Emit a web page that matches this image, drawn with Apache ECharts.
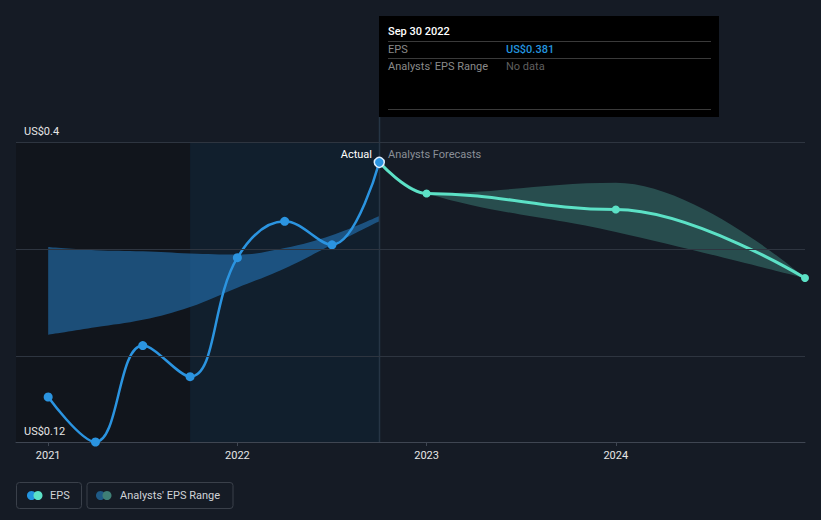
<!DOCTYPE html>
<html>
<head>
<meta charset="utf-8">
<script src="https://cdn.jsdelivr.net/npm/echarts@6/dist/echarts.min.js"></script>
<style>
  html, body { margin: 0; padding: 0; background: #151b25; }
  #chart { width: 821px; height: 520px; }
</style>
</head>
<body>
<div id="chart"></div>
<script>
// ---- data ----
// dates as decimal years (quarter ends)
const actualDates   = [2021.0, 2021.25, 2021.5, 2021.75, 2022.0, 2022.25, 2022.5, 2022.75];
const epsActual     = [0.162, 0.120, 0.210, 0.181, 0.292, 0.326, 0.304, 0.381];
const pastRangeLow  = [0.220, 0.227, 0.234, 0.246, 0.264, 0.282, 0.304, 0.326];
const pastRangeHigh = [0.302, 0.299, 0.298, 0.296, 0.295, 0.301, 0.313, 0.331];

const forecastDates = [2022.75, 2023.0, 2024.0, 2025.0];
const epsForecast   = [0.381, 0.352, 0.337, 0.273];
const forecastLow   = [0.381, 0.352, 0.316, 0.273];
const forecastHigh  = [0.381, 0.352, 0.362, 0.273];

const yearTicks = [2021, 2022, 2023, 2024];
const yTickLabels = [0.12, 0.4];
const gridValues = [0.2, 0.3, 0.4];

const xMin = 2020.83, xMax = 2025.0;
const highlightStart = 2021.75;
const FONT = 'Roboto, "Noto Sans", sans-serif';

const pairs = (xs, ys) => xs.map((x, i) => [x, ys[i]]);
// band rows are [value, date] so the stacked dimension is the value one
const bandLow = (xs, lo) => xs.map((x, i) => [lo[i], x]);
const bandDiff = (xs, lo, hi) => xs.map((x, i) => [+(hi[i] - lo[i]).toFixed(4), x]);
const fmtUsd = v => 'US$' + parseFloat((+v).toFixed(4));

const chart = echarts.init(document.getElementById('chart'), null, { renderer: 'svg' });

const bandBase = {
  type: 'line', smooth: 0.4, symbol: 'none', silent: true, z: 1,
  encode: { x: 1, y: 0 }, lineStyle: { opacity: 0 }
};

const option = {
  backgroundColor: '#151b25',
  animation: false,
  grid: { left: 16, right: 16, top: 142, bottom: 78 },
  xAxis: {
    type: 'value', min: xMin, max: xMax,
    splitLine: { show: false },
    axisLine: { show: true, lineStyle: { color: '#3f4652', width: 1 } },
    axisTick: { show: true, customValues: yearTicks, length: 4, lineStyle: { color: '#3f4652' } },
    axisLabel: {
      customValues: yearTicks, color: '#e6e6e6', fontFamily: FONT, fontSize: 11, margin: 8,
      formatter: v => String(Math.round(v))
    }
  },
  yAxis: {
    type: 'value', min: yTickLabels[0], max: yTickLabels[1], interval: yTickLabels[1] - yTickLabels[0],
    splitLine: { show: false },
    axisLine: { show: false }, axisTick: { show: false },
    axisLabel: {
      inside: true, margin: 8, color: '#e6e6e6', fontFamily: FONT, fontSize: 11,
      showMinLabel: false, showMaxLabel: true, hideOverlap: false,
      verticalAlign: 'bottom', padding: [0, 0, 5, 0],
      formatter: v => fmtUsd(v)
    }
  },
  series: [
    {
      name: 'bg', type: 'line', data: [], silent: true, z: 0,
      markArea: {
        silent: true,
        data: [
          [{ xAxis: xMin, itemStyle: { color: '#11151c' } }, { xAxis: highlightStart }],
          [{ xAxis: highlightStart, itemStyle: { color: '#111f2d' } }, { xAxis: actualDates[actualDates.length - 1] }]
        ]
      },
      markLine: {
        silent: true, symbol: 'none', label: { show: false },
        lineStyle: { color: '#2e3540', type: 'solid', width: 1 },
        data: gridValues.map(v => ({ yAxis: v }))
      }
    },
    Object.assign({}, bandBase, { name: 'pastLow', stack: 'past', data: bandLow(actualDates, pastRangeLow) }),
    Object.assign({}, bandBase, {
      name: "Analysts' EPS Range", stack: 'past',
      areaStyle: { color: 'rgba(38,130,205,0.52)', opacity: 1 },
      data: bandDiff(actualDates, pastRangeLow, pastRangeHigh)
    }),
    Object.assign({}, bandBase, { name: 'fcLow', stack: 'fc', data: bandLow(forecastDates, forecastLow) }),
    Object.assign({}, bandBase, {
      name: 'fcRange', stack: 'fc',
      areaStyle: { color: 'rgba(80,185,165,0.32)', opacity: 1 },
      data: bandDiff(forecastDates, forecastLow, forecastHigh)
    }),
    {
      name: 'Forecast', type: 'line', smooth: 0.4, smoothMonotone: 'x', symbol: 'circle', symbolSize: 8, z: 3,
      lineStyle: { color: '#5ce1c6', width: 3 }, itemStyle: { color: '#5ce1c6' },
      data: pairs(forecastDates, epsForecast).map((p, i) => i === 0 ? { value: p, symbol: 'none' } : p)
    },
    {
      name: 'EPS', type: 'line', smooth: 0.4, symbol: 'circle', symbolSize: 9, z: 4,
      lineStyle: { color: '#2b94e0', width: 2.5 }, itemStyle: { color: '#2b94e0' },
      data: pairs(actualDates, epsActual).map((p, i) => i === actualDates.length - 1
        ? { value: p, symbolSize: 10, itemStyle: { color: '#2b94e0', borderColor: '#dfefff', borderWidth: 1.5 } }
        : p)
    }
  ]
};
chart.setOption(option);

// decorations positioned from the chart's own scales
const lastX = actualDates[actualDates.length - 1];
const [px, pyTop] = chart.convertToPixel({ gridIndex: 0 }, [lastX, 0.4]);
const [gx0, pyBottom] = chart.convertToPixel({ gridIndex: 0 }, [xMin, yTickLabels[0]]);
const boxTop = 16, boxW = 340, boxH = 101;
const tipX = Math.round(px);
const f11 = '11px ' + FONT;

chart.setOption({
  graphic: [
    // bottom y-axis label (min value)
    { type: 'text', x: gx0 + 8, y: pyBottom - 5, z: 10, silent: true,
      style: { text: fmtUsd(yTickLabels[0]), fill: '#e6e6e6', font: f11, textVerticalAlign: 'bottom' } },
    { type: 'line', silent: true, z: 1,
      shape: { x1: tipX + 0.5, y1: boxTop + boxH, x2: tipX + 0.5, y2: pyBottom },
      style: { stroke: '#263545', lineWidth: 1.5 } },
    { type: 'text', x: tipX - 7, y: pyTop + 12, z: 10,
      style: { text: 'Actual', fill: '#ffffff', font: f11, textAlign: 'right', textVerticalAlign: 'middle' } },
    { type: 'text', x: tipX + 9, y: pyTop + 12, z: 10,
      style: { text: 'Analysts Forecasts', fill: '#8a8f97', font: f11, textVerticalAlign: 'middle' } },
    // tooltip box
    { type: 'group', x: tipX, y: boxTop, z: 20, children: [
      { type: 'rect', shape: { x: 0, y: 0, width: boxW, height: boxH }, style: { fill: '#000000' } },
      { type: 'text', x: 9, y: 15, style: { text: 'Sep 30 2022', fill: '#ffffff', font: '500 ' + f11, textVerticalAlign: 'middle' } },
      { type: 'line', shape: { x1: 9, y1: 25.5, x2: 332, y2: 25.5 }, style: { stroke: '#3a3a3a', lineWidth: 1 } },
      { type: 'text', x: 9, y: 33, style: { text: 'EPS', fill: '#8a8a8a', font: f11, textVerticalAlign: 'middle' } },
      { type: 'text', x: 127, y: 33, style: { text: 'US$0.381', fill: '#2394df', font: '500 ' + f11, textVerticalAlign: 'middle' } },
      { type: 'line', shape: { x1: 9, y1: 42.5, x2: 332, y2: 42.5 }, style: { stroke: '#3a3a3a', lineWidth: 1 } },
      { type: 'text', x: 9, y: 50, style: { text: "Analysts' EPS Range", fill: '#8a8a8a', font: f11, textVerticalAlign: 'middle' } },
      { type: 'text', x: 127, y: 50, style: { text: 'No data', fill: '#5f5f5f', font: f11, textVerticalAlign: 'middle' } },
      { type: 'line', shape: { x1: 9, y1: 93.5, x2: 332, y2: 93.5 }, style: { stroke: '#3a3a3a', lineWidth: 1 } }
    ]},
    // legend
    { type: 'group', x: 16, y: 482, z: 20, children: [
      { type: 'rect', shape: { x: 0.5, y: 0.5, width: 65, height: 26, r: 3 }, style: { fill: 'none', stroke: '#3a404a', lineWidth: 1 } },
      { type: 'circle', shape: { cx: 15.5, cy: 13.5, r: 4.5 }, style: { fill: '#2394df' } },
      { type: 'circle', shape: { cx: 22, cy: 13.5, r: 4.5 }, style: { fill: '#5ce1c6' } },
      { type: 'text', x: 34, y: 13.5, style: { text: 'EPS', fill: '#d0d3d8', font: f11, textVerticalAlign: 'middle' } },
      { type: 'rect', shape: { x: 71, y: 0.5, width: 146, height: 26, r: 3 }, style: { fill: 'none', stroke: '#3a404a', lineWidth: 1 } },
      { type: 'circle', shape: { cx: 84.5, cy: 13.5, r: 4.5 }, style: { fill: '#1f5a86' } },
      { type: 'circle', shape: { cx: 91, cy: 13.5, r: 4.5 }, style: { fill: '#3f7f76' } },
      { type: 'text', x: 104, y: 13.5, style: { text: "Analysts' EPS Range", fill: '#d0d3d8', font: f11, textVerticalAlign: 'middle' } }
    ]}
  ]
});
</script>
</body>
</html>
